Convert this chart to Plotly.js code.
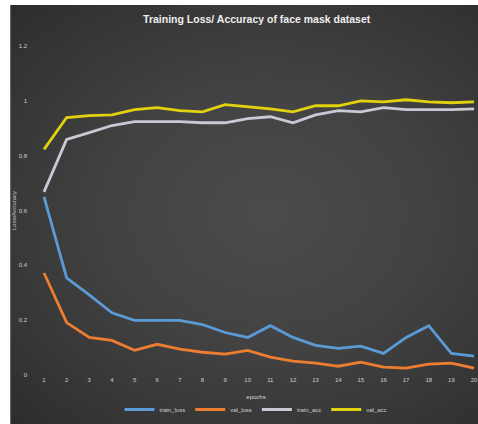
<!DOCTYPE html>
<html>
<head>
<meta charset="utf-8">
<script src="https://cdn.plot.ly/plotly-3.0.1.min.js"></script>
<style>
  html, body { margin: 0; padding: 0; background: #ffffff; width: 478px; height: 424px; overflow: hidden; }
  #chart { position: absolute; left: 10px; top: 5px; width: 468px; height: 419px;
    background: radial-gradient(ellipse at 55% 50%, #4b4b4b 0%, #424242 45%, #353535 80%, #2d2d2d 100%);
    border-left: 1px solid #6a6a6a; box-sizing: border-box; }
</style>
</head>
<body>
<div id="chart"></div>
<script>
const epochs = [1,2,3,4,5,6,7,8,9,10,11,12,13,14,15,16,17,18,19,20];
const trainLoss = [0.650,0.354,0.292,0.227,0.199,0.199,0.199,0.184,0.155,0.137,0.180,0.137,0.108,0.097,0.105,0.079,0.137,0.180,0.079,0.069];
const valLoss   = [0.372,0.191,0.137,0.126,0.090,0.112,0.094,0.083,0.076,0.090,0.065,0.051,0.043,0.032,0.047,0.029,0.025,0.040,0.043,0.025];
const trainAcc  = [0.668,0.859,0.884,0.910,0.924,0.924,0.924,0.920,0.920,0.935,0.942,0.920,0.949,0.964,0.960,0.975,0.968,0.968,0.968,0.971];
const valAcc    = [0.823,0.939,0.946,0.949,0.968,0.975,0.964,0.960,0.986,0.978,0.971,0.960,0.982,0.982,1.000,0.996,1.004,0.996,0.993,0.996];
const seriesNames = ["train_loss","val_loss","train_acc","val_acc"];
const yTicks = [0,0.2,0.4,0.6,0.8,1,1.2];
const yTickText = ["0","0.2","0.4","0.6","0.8","1","1.2"];
const titleText = "Training Loss/ Accuracy of face mask dataset";

const colors = ["#5B9BD5","#ED7D31","#C9C9D6","#E2D20E"];
const ys = [trainLoss, valLoss, trainAcc, valAcc];
const traces = ys.map((y, i) => ({
  x: epochs, y: y, type: "scatter", mode: "lines", name: seriesNames[i],
  line: { color: colors[i], width: 2.8 }
}));

const layout = {
  width: 468, height: 419,
  margin: { l: 22, r: 0, t: 41, b: 46 },
  paper_bgcolor: "rgba(0,0,0,0)",
  plot_bgcolor: "rgba(0,0,0,0)",
  font: { family: "Liberation Sans Narrow, Liberation Sans, Arial, sans-serif", color: "#d8d8d8", size: 6 },
  title: { text: titleText, x: 0.525, xanchor: "center", y: 0.965, yanchor: "middle",
           font: { family: "Liberation Sans Narrow, Liberation Sans, Arial, sans-serif", size: 10.5, color: "#eeeeee", weight: 700 } },
  xaxis: {
    range: [0.513, 20.22], tickvals: epochs, ticktext: epochs.map(String),
    showgrid: false, zeroline: false, showline: false, ticks: "",
    tickfont: { size: 6, color: "#d0d0d0" },
    title: { text: "epochs", font: { size: 6, color: "#d8d8d8" }, standoff: 12 }
  },
  yaxis: {
    range: [0, 1.2], tickvals: yTicks, ticktext: yTickText,
    showgrid: false, zeroline: false, showline: false, ticks: "",
    ticklabelstandoff: 5,
    tickfont: { size: 6, color: "#d0d0d0" },
    title: { text: "Loss/Accuracy", font: { size: 6, color: "#c8c8c8" }, standoff: 2 }
  },
  showlegend: true,
  legend: { orientation: "h", x: 0.5, xanchor: "center", y: -0.105, yanchor: "middle",
            font: { size: 6, color: "#d0d0d0" }, bgcolor: "rgba(0,0,0,0)", itemwidth: 30, tracegroupgap: 0 }
};

Plotly.newPlot("chart", traces, layout, { displayModeBar: false, staticPlot: true });
</script>
</body>
</html>
